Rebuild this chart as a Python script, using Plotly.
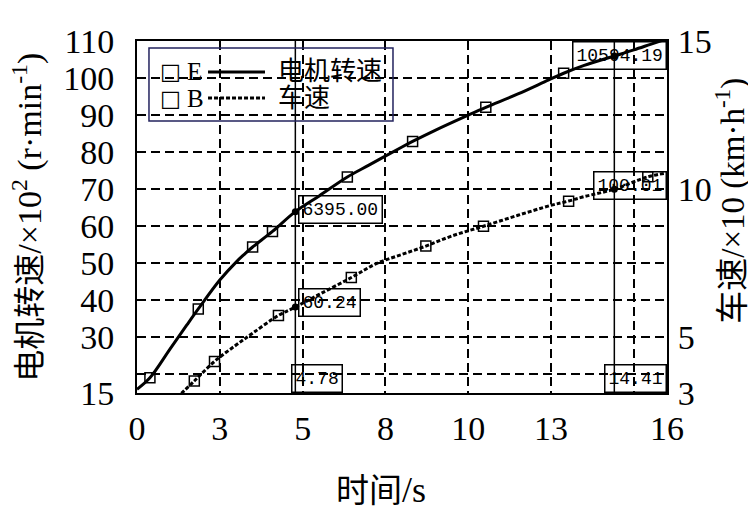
import plotly.graph_objects as go

# motor speed, x10^2 r/min (left axis)
motor_t = [0, 0.39, 1.0, 1.5, 1.85, 2.5, 3.0, 3.25, 3.49, 4.09, 4.78, 5.5, 6.35, 7.0, 8.0, 8.32,
           9.0, 10.0, 10.53, 11.5, 12.43, 12.88, 13.5, 14.41, 15.0, 15.5, 16.0]
motor_v = [16.0, 19.1, 26.9, 33.3, 37.7, 45.5, 50.4, 52.5, 54.4, 58.6, 63.95, 68.2, 73.3, 76.5, 81.4, 82.9,
           85.9, 90.0, 92.1, 95.7, 99.5, 101.3, 103.4, 105.94, 107.6, 109.1, 110.6]
motor_mark_t = [0.39, 1.85, 3.49, 4.09, 6.35, 8.32, 10.53, 12.88]
motor_mark_v = [19.1, 37.7, 54.4, 58.6, 73.3, 82.9, 92.1, 101.3]

# vehicle speed, x10 km/h (right axis)
veh_t = [1.2, 1.73, 2.34, 3.0, 3.5, 4.27, 4.78, 5.5, 6.47, 7.24, 8.0, 8.72, 9.5, 10.46,
         11.5, 12.48, 13.03, 13.5, 14.41, 15.42, 16.0]
veh_v = [2.96, 3.53, 4.19, 4.75, 5.15, 5.74, 6.024, 6.45, 7.02, 7.5, 7.8, 8.08, 8.42, 8.75,
         9.12, 9.45, 9.6, 9.75, 10.001, 10.42, 10.55]
veh_mark_t = [1.73, 2.34, 4.27, 6.47, 8.72, 10.46, 13.03, 15.42]
veh_mark_v = [3.53, 4.19, 5.74, 7.02, 8.08, 8.75, 9.59, 10.42]

# cursor readouts
cursor_t = [4.78, 14.41]
cursor_motor = [63.95, 105.94]
cursor_veh = [6.024, 10.001]
cursor_t_text = ["4.78", "14.41"]
cursor_motor_text = ["6395.00", "10594.19"]
cursor_veh_text = ["60.24", "100.01"]

# axis ticks
x_ticks = [0, 2.5, 5, 7.5, 10, 12.5, 15, 16]
x_labels = ["0", "3", "5", "8", "10", "13", "", "16"]
y_ticks = [15, 20, 30, 40, 50, 60, 70, 80, 90, 100, 110]
y_labels = ["15", "", "30", "40", "50", "60", "70", "80", "90", "100", "110"]
y2_ticks = [3.125, 5, 10, 15]
y2_labels = ["3", "5", "10", "15"]

SERIF = "Liberation Serif, Noto Sans CJK SC, serif"
MONO = "Liberation Mono, monospace"

fig = go.Figure()

fig.add_trace(go.Scatter(x=motor_t, y=motor_v, mode="lines", line_shape="spline",
                         line=dict(color="black", width=3), showlegend=False))
fig.add_trace(go.Scatter(x=motor_mark_t, y=motor_mark_v, mode="markers",
                         marker=dict(symbol="square-open", size=10, color="black", line=dict(width=1.5)),
                         showlegend=False))
fig.add_trace(go.Scatter(x=veh_t, y=veh_v, mode="lines", yaxis="y2", line_shape="spline",
                         line=dict(color="black", width=3, dash="4px,2px"), showlegend=False))
fig.add_trace(go.Scatter(x=veh_mark_t, y=veh_mark_v, mode="markers", yaxis="y2",
                         marker=dict(symbol="square-open", size=10, color="black", line=dict(width=1.5)),
                         showlegend=False))

# cursor dots
fig.add_trace(go.Scatter(x=cursor_t, y=cursor_motor, mode="markers",
                         marker=dict(size=7, color="black"), showlegend=False))
fig.add_trace(go.Scatter(x=cursor_t, y=cursor_veh, mode="markers", yaxis="y2",
                         marker=dict(size=7, color="black"), showlegend=False))

# cursor lines
for t in cursor_t:
    fig.add_shape(type="line", xref="x", yref="paper", x0=t, x1=t, y0=0, y1=1,
                  line=dict(color="black", width=1.5))

box = dict(bordercolor="black", borderwidth=1.5, borderpad=3, bgcolor="rgba(255,255,255,0)",
           font=dict(family=MONO, size=18, color="black"), showarrow=False)

# readouts at first cursor
fig.add_annotation(x=cursor_t[0], y=cursor_motor[0], text=cursor_motor_text[0],
                   xanchor="left", yanchor="middle", xshift=3, yshift=2, **box)
fig.add_annotation(x=cursor_t[0], y=cursor_veh[0], yref="y2", text=cursor_veh_text[0],
                   xanchor="left", yanchor="middle", xshift=3, yshift=5, **box)
fig.add_annotation(x=cursor_t[0], y=0, yref="paper", text=cursor_t_text[0],
                   xanchor="left", yanchor="bottom", xshift=-4, **box)
# readouts at second cursor
fig.add_annotation(x=1, xref="paper", y=1, yref="paper", text=cursor_motor_text[1],
                   xanchor="right", yanchor="top", **box)
fig.add_annotation(x=1, xref="paper", y=cursor_veh[1], yref="y2", text=cursor_veh_text[1],
                   xanchor="right", yanchor="middle", yshift=4, **box)
fig.add_annotation(x=cursor_t[1], y=0, yref="paper", text=cursor_t_text[1],
                   xanchor="left", yanchor="bottom", xshift=-10, **box)

# legend drawn by hand
fig.add_shape(type="rect", xref="paper", yref="paper", x0=0.0226, x1=0.483, y0=0.773, y1=0.980,
              line=dict(color="#23235e", width=1.5))
for yy, tag, dash, name in [(0.912, "E", "solid", "电机转速"), (0.838, "B", "4px,2px", "车速")]:
    fig.add_annotation(x=0.0395, y=yy, xref="paper", yref="paper", text="□", showarrow=False,
                       xanchor="left", yanchor="middle",
                       font=dict(family="DejaVu Sans", size=22, color="black"))
    fig.add_annotation(x=0.0905, y=yy, xref="paper", yref="paper", text=tag, showarrow=False,
                       xanchor="left", yanchor="middle", font=dict(family=SERIF, size=25, color="black"))
    fig.add_shape(type="line", xref="paper", yref="paper", x0=0.134, x1=0.2415, y0=yy, y1=yy,
                  line=dict(color="black", width=3, dash=dash))
    fig.add_annotation(x=0.262, y=yy, xref="paper", yref="paper", text=name, showarrow=False,
                       xanchor="left", yanchor="middle", font=dict(family=SERIF, size=26, color="black"))

# axis titles
fig.add_annotation(x=-0.208, y=0.5, xref="paper", yref="paper", textangle=-90, showarrow=False,
                   xanchor="center", yanchor="middle",
                   text='电机转速<span style="font-size:34px">/×10<sup>2</sup> (r·min<sup>-1</sup>)</span>',
                   font=dict(family=SERIF, size=32, color="black"))
fig.add_annotation(x=1.12, y=0.545, xref="paper", yref="paper", textangle=-90, showarrow=False,
                   xanchor="center", yanchor="middle",
                   text='车速<span style="font-size:33px">/×10 (km·h<sup>-1</sup>)</span>',
                   font=dict(family=SERIF, size=33, color="black"))
fig.add_annotation(x=0.46, y=-0.2756, xref="paper", yref="paper", showarrow=False,
                   xanchor="center", yanchor="middle",
                   text='时间<span style="font-size:36px">/s</span>',
                   font=dict(family=SERIF, size=33, color="black"))

grid = dict(showgrid=True, gridcolor="black", gridwidth=1.5, griddash="9px,5px",
            showline=True, linecolor="black", linewidth=2, ticks="", zeroline=False,
            automargin=False, tickfont=dict(family=SERIF, size=34, color="black"))

# page body adds 8px, so the figure is 8px smaller to fit the window
fig.update_layout(
    width=748, height=513,
    margin=dict(l=129, r=89, t=33, b=128),
    paper_bgcolor="white", plot_bgcolor="white",
    xaxis=dict(range=[0, 16], tickvals=x_ticks, ticktext=x_labels, mirror=True,
               ticklabelstandoff=4, **grid),
    yaxis=dict(range=[15, 110], tickvals=y_ticks, ticktext=y_labels,
               ticklabelstandoff=14, **grid),
    yaxis2=dict(range=[3.125, 15], tickvals=y2_ticks, ticktext=y2_labels, overlaying="y",
                side="right", showgrid=False, showline=True, linecolor="black", linewidth=2,
                ticks="", zeroline=False, ticklabelstandoff=2, automargin=False,
                tickfont=dict(family=SERIF, size=34, color="black")),
)

fig.write_html("out.html")
